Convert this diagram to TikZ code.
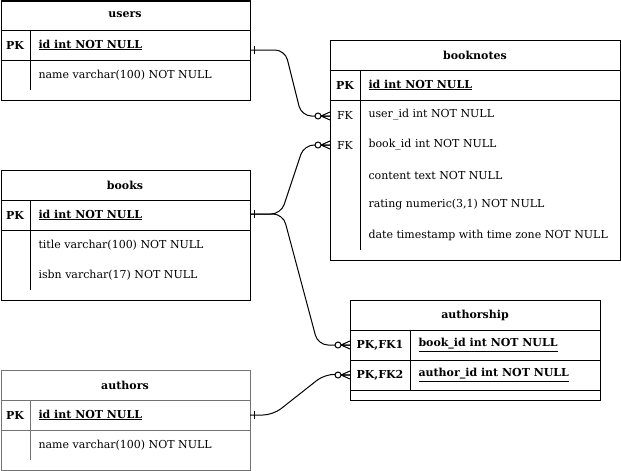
\documentclass[tikz,border=0pt]{standalone}
\usepackage{fontspec}
\setmainfont{DejaVu Serif}
\usetikzlibrary{positioning}

\tikzset{
  one/.pic={\draw (4,-4) -- (4,4);},
  zmany/.pic={
    \draw (-9,0) -- (0,-4) (-9,0) -- (0,0) (-9,0) -- (0,4);
    \draw[fill=white] (-12,0) circle (3pt);}
}

\begin{document}
\begin{tikzpicture}[x=1pt, y=-1pt, line width=1pt,
  font=\fontsize{11}{13}\selectfont,
  tbl/.style={draw, anchor=north west, inner sep=0pt},
  hdr/.style={font=\fontsize{11}{13}\selectfont\bfseries},
  key/.style={inner sep=0pt},
  pkey/.style={key, font=\fontsize{11}{13}\selectfont\bfseries},
  fld/.style={anchor=west, inner sep=0pt},
  pfld/.style={fld, font=\fontsize{11}{13}\selectfont\bfseries},
  rel/.style={rounded corners=10pt},
  grey/.style={draw=black!55}
]
  \useasboundingbox (0,0) rectangle (621,471);

  % users
  \node[tbl, minimum width=249.5pt, minimum height=99.5pt] (users) at (0.5,0.5) {};
  \node[hdr] (users-t) at (125,15) {users};
  \draw (0.5,30) -- (250,30) (0.5,60) -- (250,60) (30,30) -- (30,90);
  \node[pkey] (users-pk) at (15,45) {PK};
  \node[pfld] (users-id) at (38,45) {\underline{id int NOT NULL}};
  \node[fld] (users-name) at (38,75) {name varchar(100) NOT NULL};

  % booknotes
  \node[tbl, minimum width=290pt, minimum height=220pt] (booknotes) at (330,40) {};
  \node[hdr] (booknotes-t) at (475,55) {booknotes};
  \draw (330,70) -- (620,70) (330,100) -- (620,100) (360,70) -- (360,250);
  \node[pkey] (booknotes-pk) at (345,85) {PK};
  \node[pfld] (booknotes-id) at (368,85) {\underline{id int NOT NULL}};
  \node[key] (booknotes-fk1) at (345,115) {FK};
  \node[fld] (booknotes-user) at (368,115) {user\_id int NOT NULL};
  \node[key] (booknotes-fk2) at (345,145) {FK};
  \node[fld] (booknotes-book) at (368,145) {book\_id int NOT NULL};
  \node[fld] (booknotes-content) at (368,175) {content text NOT NULL};
  \node[fld] (booknotes-rating) at (368,205) {rating numeric(3,1) NOT NULL};
  \node[fld] (booknotes-date) at (368,235) {date timestamp with time zone NOT NULL};

  % books
  \node[tbl, minimum width=249.5pt, minimum height=130pt] (books) at (0.5,170) {};
  \node[hdr] (books-t) at (125,185) {books};
  \draw (0.5,200) -- (250,200) (0.5,230) -- (250,230) (30,200) -- (30,290);
  \node[pkey] (books-pk) at (15,215) {PK};
  \node[pfld] (books-id) at (38,215) {\underline{id int NOT NULL}};
  \node[fld] (books-title) at (38,245) {title varchar(100) NOT NULL};
  \node[fld] (books-isbn) at (38,275) {isbn varchar(17) NOT NULL};

  % authorship
  \node[tbl, minimum width=250pt, minimum height=100pt] (authorship) at (350,300) {};
  \node[hdr] (authorship-t) at (475,315) {authorship};
  \draw (350,330) -- (600,330) (350,360) -- (600,360) (350,390) -- (600,390) (410,330) -- (410,390);
  \node[pkey] (authorship-pk1) at (380,345) {PK,FK1};
  \node[pfld] (authorship-book) at (418,345) {\underline{book\_id int NOT NULL}};
  \node[pkey] (authorship-pk2) at (380,375) {PK,FK2};
  \node[pfld] (authorship-author) at (418,375) {\underline{author\_id int NOT NULL}};

  % authors
  \node[tbl, grey, minimum width=249.5pt, minimum height=99.5pt] (authors) at (0.5,370) {};
  \node[hdr] (authors-t) at (125,385) {authors};
  \draw[grey] (0.5,400) -- (250,400) (0.5,430) -- (250,430) (30,400) -- (30,460);
  \node[pkey] (authors-pk) at (15,415) {PK};
  \node[pfld] (authors-id) at (38,415) {\underline{id int NOT NULL}};
  \node[fld] (authors-name) at (38,445) {name varchar(100) NOT NULL};

  % relationship ends
  \coordinate (users-out) at (250,50);
  \coordinate (books-out) at (250,214);
  \coordinate (authors-out) at (250,415);
  \coordinate (booknotes-in1) at (330,116);
  \coordinate (booknotes-in2) at (330,145);
  \coordinate (authorship-in1) at (350,345);
  \coordinate (authorship-in2) at (350,375);

  \draw[rel] (users-out) -- (285,50) -- (301.5,116) -- (booknotes-in1);
  \draw[rel] (books-out) -- (281,214) -- (304,145) -- (booknotes-in2);
  \draw[rel] (books-out) -- (283,214) -- (318,345) -- (authorship-in1);
  \draw[rel] (authors-out) -- (273,415) -- (325,374) -- (authorship-in2);

  \pic at (users-out) {one};
  \pic at (books-out) {one};
  \pic at (authors-out) {one};
  \pic at (booknotes-in1) {zmany};
  \pic at (booknotes-in2) {zmany};
  \pic at (authorship-in1) {zmany};
  \pic at (authorship-in2) {zmany};
\end{tikzpicture}
\end{document}
